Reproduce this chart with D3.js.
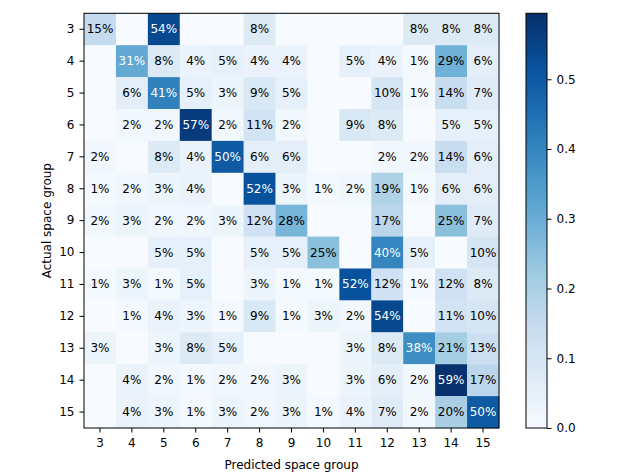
<!DOCTYPE html>
<html>
<head>
<meta charset="utf-8">
<script src="https://cdn.jsdelivr.net/npm/d3@7"></script>
<style>
  html, body { margin: 0; padding: 0; background: #fff; }
  svg { display: block; }
  text { font-family: "DejaVu Sans", sans-serif; }
</style>
</head>
<body>
<svg id="chart" width="640" height="476"></svg>
<script>
// Predicted (columns) and actual (rows) space groups
const predictedLabels = ["3","4","5","6","7","8","9","10","11","12","13","14","15"];
const actualLabels    = ["3","4","5","6","7","8","9","10","11","12","13","14","15"];
// Row-normalised confusion values in percent (0 = empty cell)
const row3  = [15, 0, 54, 0, 0, 8, 0, 0, 0, 0, 8, 8, 8];
const row4  = [0, 31, 8, 4, 5, 4, 4, 0, 5, 4, 1, 29, 6];
const row5  = [0, 6, 41, 5, 3, 9, 5, 0, 0, 10, 1, 14, 7];
const row6  = [0, 2, 2, 57, 2, 11, 2, 0, 9, 8, 0, 5, 5];
const row7  = [2, 0, 8, 4, 50, 6, 6, 0, 0, 2, 2, 14, 6];
const row8  = [1, 2, 3, 4, 0, 52, 3, 1, 2, 19, 1, 6, 6];
const row9  = [2, 3, 2, 2, 3, 12, 28, 0, 0, 17, 0, 25, 7];
const row10 = [0, 0, 5, 5, 0, 5, 5, 25, 0, 40, 5, 0, 10];
const row11 = [1, 3, 1, 5, 0, 3, 1, 1, 52, 12, 1, 12, 8];
const row12 = [0, 1, 4, 3, 1, 9, 1, 3, 2, 54, 0, 11, 10];
const row13 = [3, 0, 3, 8, 5, 0, 0, 0, 3, 8, 38, 21, 13];
const row14 = [0, 4, 2, 1, 2, 2, 3, 0, 3, 6, 2, 59, 17];
const row15 = [0, 4, 3, 1, 3, 2, 3, 1, 4, 7, 2, 20, 50];
const rows = [row3,row4,row5,row6,row7,row8,row9,row10,row11,row12,row13,row14,row15];
const colorbarTicks = [0.0, 0.1, 0.2, 0.3, 0.4, 0.5];
const xTitle = "Predicted space group";
const yTitle = "Actual space group";

const cells = [];
rows.forEach((r, i) => r.forEach((v, j) => cells.push({row: actualLabels[i], col: predictedLabels[j], v: v / 100})));

const vmax = 0.5946;
const blues = ["#f7fbff","#deebf7","#c6dbef","#9ecae1","#6baed6","#4292c6","#2171b5","#08519c","#08306b"];
const color = d3.scaleLinear().domain(blues.map((_, i) => i / 8 * vmax)).range(blues).clamp(true);
const thresh = vmax / 2;
const FS = "12px";

const svg = d3.select("#chart");
const L = 84, R = 499, T = 13.3, B = 428;
const x = d3.scaleBand().domain(predictedLabels).range([L, R]);
const y = d3.scaleBand().domain(actualLabels).range([T, B]);

const g = svg.append("g");
g.selectAll("rect.cell").data(cells).join("rect")
  .attr("class", "cell")
  .attr("x", d => x(d.col)).attr("y", d => y(d.row))
  .attr("width", x.bandwidth() + 0.3).attr("height", y.bandwidth() + 0.3)
  .attr("fill", d => color(d.v));

g.selectAll("text.val").data(cells.filter(d => d.v > 0)).join("text")
  .attr("class", "val")
  .attr("x", d => x(d.col) + x.bandwidth() / 2)
  .attr("y", d => y(d.row) + y.bandwidth() / 2)
  .attr("text-anchor", "middle").attr("dominant-baseline", "central")
  .attr("font-size", FS)
  .attr("fill", d => d.v > thresh ? "#fff" : "#000")
  .text(d => Math.round(d.v * 100) + "%");

// frame
svg.append("rect").attr("x", L).attr("y", T).attr("width", R - L).attr("height", B - T)
  .attr("fill", "none").attr("stroke", "#000").attr("stroke-width", 1);

const xAxis = svg.append("g").attr("transform", `translate(0,${B})`)
  .call(d3.axisBottom(x).tickSize(4.5).tickPadding(6));
const yAxis = svg.append("g").attr("transform", `translate(${L},0)`)
  .call(d3.axisLeft(y).tickSize(4.5).tickPadding(5));
[xAxis, yAxis].forEach(a => {
  a.select(".domain").remove();
  a.selectAll("text").attr("font-size", FS).attr("font-family", "DejaVu Sans").attr("fill", "#000");
  a.selectAll("line").attr("stroke", "#000");
});

svg.append("text").attr("x", (L + R) / 2).attr("y", 469)
  .attr("text-anchor", "middle").attr("font-size", FS).text(xTitle);
svg.append("text").attr("transform", `translate(50.5,${(T + B) / 2}) rotate(-90)`)
  .attr("text-anchor", "middle").attr("font-size", FS).text(yTitle);

// colorbar
const cbL = 526, cbR = 547;
const cy = d3.scaleLinear().domain([0, vmax]).range([B, T]);
const defs = svg.append("defs");
const grad = defs.append("linearGradient").attr("id", "cbgrad")
  .attr("x1", 0).attr("y1", 1).attr("x2", 0).attr("y2", 0);
blues.forEach((c, i) => grad.append("stop").attr("offset", i / 8).attr("stop-color", c));
svg.append("rect").attr("x", cbL).attr("y", T).attr("width", cbR - cbL).attr("height", B - T)
  .attr("fill", "url(#cbgrad)").attr("stroke", "#000").attr("stroke-width", 1);
const cAxis = svg.append("g").attr("transform", `translate(${cbR},0)`)
  .call(d3.axisRight(cy).tickValues(colorbarTicks).tickFormat(d3.format(".1f")).tickSize(4.5).tickPadding(5));
cAxis.select(".domain").remove();
cAxis.selectAll("text").attr("font-size", FS).attr("font-family", "DejaVu Sans").attr("fill", "#000");
cAxis.selectAll("line").attr("stroke", "#000");
</script>
</body>
</html>
